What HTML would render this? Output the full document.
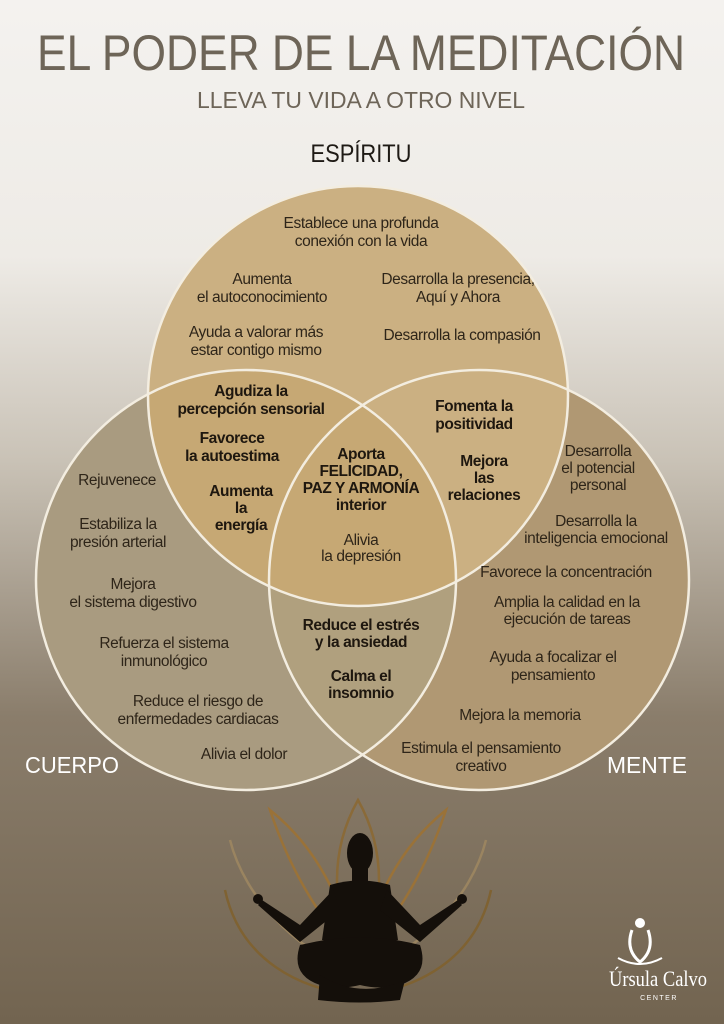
<!DOCTYPE html>
<html><head><meta charset="utf-8"><style>
html,body{margin:0;padding:0}
svg{display:block}
text{font-family:"Liberation Sans",sans-serif}
.t{font-size:15.5px;fill:#2e2519;text-anchor:middle;letter-spacing:-0.4px}
.b{font-size:15.5px;fill:#1e170f;text-anchor:middle;font-weight:bold;letter-spacing:-0.4px}
</style></head><body>
<svg width="724" height="1024" viewBox="0 0 724 1024" xmlns="http://www.w3.org/2000/svg">
<defs>
<linearGradient id="bg" x1="0" y1="0" x2="0" y2="1">
<stop offset="0" stop-color="#f4f2ef"/>
<stop offset="0.25" stop-color="#eeebe6"/>
<stop offset="0.45" stop-color="#c9c2b6"/>
<stop offset="0.7" stop-color="#8a7d6b"/>
<stop offset="1" stop-color="#726450"/>
</linearGradient>
<clipPath id="cl"><circle cx="246" cy="580" r="210"/></clipPath>
</defs>
<rect width="724" height="1024" fill="url(#bg)"/>
<circle cx="246" cy="580" r="210" fill="#a99b80"/>
<circle cx="479" cy="580" r="210" fill="#b09873"/>
<circle cx="479" cy="580" r="210" fill="#b0a07e" clip-path="url(#cl)"/>
<circle cx="358" cy="396" r="210" fill="#cbb082"/>
<circle cx="246" cy="580" r="210" fill="#c5a872" clip-path="url(#cl)" opacity="0" />
<g clip-path="url(#cl)"><circle cx="358" cy="396" r="210" fill="#c6a874"/></g>
<circle cx="479" cy="580" r="210" fill="none"/>
<g fill="none" stroke="#f3ede0" stroke-width="2.5">
<circle cx="358" cy="396" r="210"/>
<circle cx="246" cy="580" r="210"/>
<circle cx="479" cy="580" r="210"/>
</g>
<text x="361" y="70" text-anchor="middle" font-size="50" fill="#6e6558" textLength="648" lengthAdjust="spacingAndGlyphs">EL PODER DE LA MEDITACIÓN</text>
<text x="361" y="108" text-anchor="middle" font-size="23" fill="#6e6558" textLength="328" lengthAdjust="spacingAndGlyphs">LLEVA TU VIDA A OTRO NIVEL</text>
<text x="361" y="162" text-anchor="middle" font-size="25" fill="#1e1a15" textLength="101" lengthAdjust="spacingAndGlyphs">ESPÍRITU</text>
<text x="72" y="773" text-anchor="middle" font-size="23" fill="#fff" textLength="94" lengthAdjust="spacingAndGlyphs">CUERPO</text>
<text x="647" y="773" text-anchor="middle" font-size="23" fill="#fff" textLength="80" lengthAdjust="spacingAndGlyphs">MENTE</text>

<text class="t" x="361" y="228">Establece una profunda</text>
<text class="t" x="361" y="246">conexión con la vida</text>
<text class="t" x="262" y="284">Aumenta</text>
<text class="t" x="262" y="302">el autoconocimiento</text>
<text class="t" x="458" y="284">Desarrolla la presencia,</text>
<text class="t" x="458" y="302">Aquí y Ahora</text>
<text class="t" x="256" y="337">Ayuda a valorar más</text>
<text class="t" x="256" y="355">estar contigo mismo</text>
<text class="t" x="462" y="340">Desarrolla la compasión</text>

<text class="b" x="251" y="396">Agudiza la</text>
<text class="b" x="251" y="414">percepción sensorial</text>
<text class="b" x="232" y="443">Favorece</text>
<text class="b" x="232" y="461">la autoestima</text>
<text class="b" x="241" y="496">Aumenta</text>
<text class="b" x="241" y="513">la</text>
<text class="b" x="241" y="530">energía</text>
<text class="b" x="474" y="411">Fomenta la</text>
<text class="b" x="474" y="429">positividad</text>
<text class="b" x="484" y="466">Mejora</text>
<text class="b" x="484" y="483">las</text>
<text class="b" x="484" y="500">relaciones</text>
<text class="b" x="361" y="459">Aporta</text>
<text class="b" x="361" y="476">FELICIDAD,</text>
<text class="b" x="361" y="493">PAZ Y ARMONÍA</text>
<text class="b" x="361" y="510">interior</text>
<text class="t" x="361" y="545">Alivia</text>
<text class="t" x="361" y="561">la depresión</text>

<text class="t" x="117" y="485">Rejuvenece</text>
<text class="t" x="118" y="529">Estabiliza la</text>
<text class="t" x="118" y="547">presión arterial</text>
<text class="t" x="133" y="589">Mejora</text>
<text class="t" x="133" y="607">el sistema digestivo</text>
<text class="t" x="164" y="648">Refuerza el sistema</text>
<text class="t" x="164" y="666">inmunológico</text>
<text class="t" x="198" y="706">Reduce el riesgo de</text>
<text class="t" x="198" y="724">enfermedades cardiacas</text>
<text class="t" x="244" y="759">Alivia el dolor</text>

<text class="b" x="361" y="630">Reduce el estrés</text>
<text class="b" x="361" y="647">y la ansiedad</text>
<text class="b" x="361" y="681">Calma el</text>
<text class="b" x="361" y="698">insomnio</text>

<text class="t" x="598" y="456">Desarrolla</text>
<text class="t" x="598" y="473">el potencial</text>
<text class="t" x="598" y="490">personal</text>
<text class="t" x="596" y="526">Desarrolla la</text>
<text class="t" x="596" y="543">inteligencia emocional</text>
<text class="t" x="566" y="577">Favorece la concentración</text>
<text class="t" x="567" y="607">Amplia la calidad en la</text>
<text class="t" x="567" y="624">ejecución de tareas</text>
<text class="t" x="553" y="662">Ayuda a focalizar el</text>
<text class="t" x="553" y="680">pensamiento</text>
<text class="t" x="520" y="720">Mejora la memoria</text>
<text class="t" x="481" y="753">Estimula el pensamiento</text>
<text class="t" x="481" y="771">creativo</text>

<!-- lotus -->
<g fill="none" stroke-width="2.5">
<path d="M358 800 C330 850 330 910 358 960 C386 910 386 850 358 800Z" stroke="#8a6a38"/>
<path d="M270 810 C290 870 320 920 358 960 C340 900 320 850 270 810Z" stroke="#9a7238"/>
<path d="M446 810 C426 870 396 920 358 960 C376 900 396 850 446 810Z" stroke="#9a7238"/>
<path d="M225 890 C240 960 300 990 358 995" stroke="#7f6232"/>
<path d="M491 890 C476 960 416 990 358 995" stroke="#7f6232"/>
<path d="M230 840 C245 900 300 950 340 965" stroke="#9a8460"/>
<path d="M486 840 C471 900 416 950 376 965" stroke="#9a8460"/>
</g>
<!-- silhouette -->
<g fill="#140f0a">
<ellipse cx="360" cy="853" rx="13" ry="20"/>
<rect x="352" y="865" width="16" height="16"/>
<path d="M330 885 Q360 876 390 885 L398 940 Q360 950 322 940Z"/>
<path d="M333 890 L300 925 L262 900 L258 905 L300 942 L340 910Z"/>
<path d="M387 890 L420 925 L458 900 L462 905 L420 942 L380 910Z"/>
<path d="M300 945 Q290 975 320 985 Q340 990 360 985 Q380 990 400 985 Q430 975 420 945 Q360 930 300 945Z"/>
<path d="M320 975 Q360 1000 405 980 L400 1000 Q360 1005 318 1000Z"/>
<circle cx="258" cy="899" r="5"/><circle cx="462" cy="899" r="5"/>
</g>
<!-- logo -->
<circle cx="640" cy="923" r="5" fill="#fff"/>
<path d="M632 930 Q625 950 640 962 Q655 950 648 930" fill="none" stroke="#fff" stroke-width="3"/>
<path d="M618 958 Q640 970 662 958" fill="none" stroke="#fff" stroke-width="2"/>
<text x="658" y="986" text-anchor="middle" font-family="Liberation Serif" font-size="22" fill="#fff" style="font-family:'Liberation Serif',serif" textLength="98" lengthAdjust="spacingAndGlyphs">Úrsula Calvo</text>
<text x="659" y="1000" text-anchor="middle" font-size="7" fill="#fff" letter-spacing="1.5">CENTER</text>
</svg>
</body></html>
